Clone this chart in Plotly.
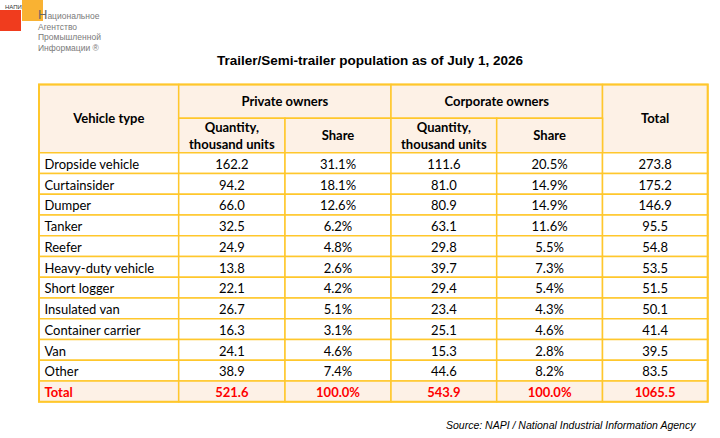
import plotly.graph_objects as go

# %% data
vehicle_types = [
    "Dropside vehicle", "Curtainsider", "Dumper", "Tanker", "Reefer",
    "Heavy-duty vehicle", "Short logger", "Insulated van", "Container carrier",
    "Van", "Other",
]
private_qty = [162.2, 94.2, 66.0, 32.5, 24.9, 13.8, 22.1, 26.7, 16.3, 24.1, 38.9]
private_share = [31.1, 18.1, 12.6, 6.2, 4.8, 2.6, 4.2, 5.1, 3.1, 4.6, 7.4]
corp_qty = [111.6, 81.0, 80.9, 63.1, 29.8, 39.7, 29.4, 23.4, 25.1, 15.3, 44.6]
corp_share = [20.5, 14.9, 14.9, 11.6, 5.5, 7.3, 5.4, 4.3, 4.6, 2.8, 8.2]
total = [273.8, 175.2, 146.9, 95.5, 54.8, 53.5, 51.5, 50.1, 41.4, 39.5, 83.5]
total_label = "Total"
total_row = [521.6, 100.0, 543.9, 100.0, 1065.5]

group_headers = ["Private owners", "Corporate owners"]
sub_headers = ["Quantity,<br>thousand units", "Share", "Quantity,<br>thousand units", "Share"]
title = "Trailer/Semi-trailer population as of July 1, 2026"
source = "Source: NAPI / National Industrial Information Agency"
logo_lines = ["ациональное", "Агентство", "Промышленной", "Информации ®"]

# %% layout of the grid (pixels)
W, H = 720, 438
col_edges = [39, 178.7, 285, 391, 496.7, 602.5, 707.7]
head_top, head_mid, head_bot = 84.5, 118.3, 152.7
row_h = 20.75
gold = "#FFC72C"
peach = "#FDF1E6"
font = "Lato"
fsize = 13
dy_body = 2.5   # text baseline nudge
dy_head = 1.5

fig = go.Figure()
shapes = []


def cell(x0, x1, y0, y1, fill="white"):
    shapes.append(dict(type="rect", x0=x0, x1=x1, y0=y0, y1=y1, xref="x", yref="y",
                       fillcolor=fill, line=dict(color=gold, width=1.5), layer="below"))


# header cells
c = col_edges
cell(c[0], c[1], head_top, head_bot, peach)
cell(c[1], c[3], head_top, head_mid, peach)
cell(c[3], c[5], head_top, head_mid, peach)
cell(c[5], c[6], head_top, head_bot, peach)
for j in range(1, 5):
    cell(c[j], c[j + 1], head_mid, head_bot, peach)

n_rows = len(vehicle_types) + 1
row_y = [head_bot + (i + 0.5) * row_h + dy_body for i in range(n_rows)]
for i in range(n_rows):
    fill = peach if i == n_rows - 1 else "white"
    for j in range(6):
        cell(c[j], c[j + 1], head_bot + i * row_h, head_bot + (i + 1) * row_h, fill)

# outer border slightly heavier
shapes.append(dict(type="rect", x0=c[0], x1=c[6], y0=head_top, y1=head_bot + n_rows * row_h,
                   xref="x", yref="y", line=dict(color=gold, width=2), layer="below"))

centers = [(c[j] + c[j + 1]) / 2 for j in range(6)]


def text_trace(x, y, text, color="black", bold=False, pos="middle center", size=fsize, fam=font):
    fig.add_trace(go.Scatter(
        x=x, y=y, text=[f"<b>{t}</b>" if bold else t for t in text],
        mode="text", textposition=pos, hoverinfo="skip",
        textfont=dict(family=fam, size=size, color=color),
    ))


# header text
y_full = (head_top + head_bot) / 2 + dy_head
text_trace([centers[0]], [y_full], ["Vehicle type"], bold=True)
text_trace([(c[1] + c[3]) / 2, (c[3] + c[5]) / 2], [(head_top + head_mid) / 2 + dy_head] * 2,
           group_headers, bold=True)
text_trace(centers[1:5], [(head_mid + head_bot) / 2 + dy_head] * 4, sub_headers, bold=True)
text_trace([centers[5]], [y_full], ["Total"], bold=True)

# body
body_y = row_y[:-1]
text_trace([c[0] + 5.5] * len(vehicle_types), body_y, vehicle_types, pos="middle right")
cols = [
    [f"{v:.1f}" for v in private_qty],
    [f"{v:.1f}%" for v in private_share],
    [f"{v:.1f}" for v in corp_qty],
    [f"{v:.1f}%" for v in corp_share],
    [f"{v:.1f}" for v in total],
]
for j, vals in enumerate(cols):
    text_trace([centers[j + 1]] * len(vals), body_y, vals)

# totals row
red = "#FF0000"
text_trace([c[0] + 5.5], [row_y[-1]], [total_label], color=red, bold=True, pos="middle right")
tot_txt = [f"{v:.1f}%" if j in (1, 3) else f"{v:.1f}" for j, v in enumerate(total_row)]
text_trace(centers[1:], [row_y[-1]] * 5, tot_txt, color=red, bold=True)

# logo
shapes.append(dict(type="rect", x0=0, x1=21, y0=10, y1=31, xref="x", yref="y",
                   fillcolor="#F03C1E", line=dict(width=0)))
shapes.append(dict(type="rect", x0=22, x1=43, y0=0, y1=21, xref="x", yref="y",
                   fillcolor="#F9B233", line=dict(width=0)))
logo_font = "Liberation Sans"
annotations = [
    dict(x=13, y=7, text="НАПИ", showarrow=False, xref="x", yref="y",
         font=dict(family=logo_font, size=6, color="#333333")),
    dict(x=370, y=60, text=f"<b>{title}</b>", showarrow=False, xref="x", yref="y",
         font=dict(family="Liberation Sans", size=13.5, color="black")),
    dict(x=698, y=425, xanchor="right", text=f"<i>{source}</i>", showarrow=False,
         xref="x", yref="y",
         font=dict(family="Liberation Sans", size=10.5, color="black")),
]
for k, line in enumerate(logo_lines):
    if k == 0:
        line = "<span style='font-size:13px;color:#666666'>Н</span>" + line
    annotations.append(dict(
        x=36, y=[14, 27, 37, 47.5][k], xanchor="left", showarrow=False,
        xref="x", yref="y", text=line,
        font=dict(family=logo_font, size=8.5, color="#7A7A7A"),
    ))

fig.update_layout(
    width=W, height=H, margin=dict(l=0, r=0, t=0, b=0),
    paper_bgcolor="white", plot_bgcolor="white", showlegend=False,
    shapes=shapes, annotations=annotations,
    xaxis=dict(range=[0, W], visible=False, fixedrange=True),
    yaxis=dict(range=[H, 0], visible=False, fixedrange=True),
)
fig.write_html("out.html", config={"displayModeBar": False},
               post_script="document.body.style.margin='0';")
